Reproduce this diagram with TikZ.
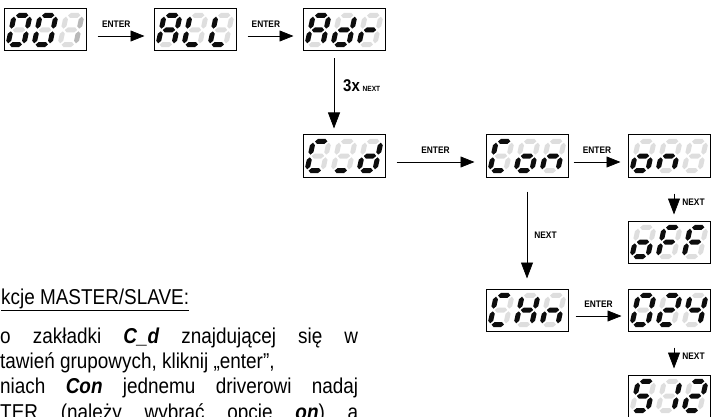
\documentclass[tikz,border=0pt]{standalone}
\usepackage{fontspec}
\setmainfont[FakeStretch=0.88]{Liberation Sans}
\usetikzlibrary{arrows.meta}
\definecolor{segoff}{rgb}{0.87,0.87,0.87}
\definecolor{segon}{rgb}{0.05,0.05,0.05}
\definecolor{segdim}{rgb}{0.72,0.72,0.72}

\tikzset{
  disp/.style={draw, line width=1pt, minimum width=82pt, minimum height=42pt, inner sep=0pt},
  arr/.style={line width=0.7pt, -{Triangle[length=14pt,width=11pt]}},
  longarr/.style={line width=0.7pt, -{Triangle[length=16pt,width=12pt]}},
  keylabel/.style={font=\fontsize{9.5}{10}\selectfont\bfseries, inner sep=0pt},
  txt/.style={font=\fontsize{21.5}{25}\selectfont, inner sep=0pt, anchor=base west},
}

% segments: horizontal and vertical hexagon at (x,y) with a colour
\newcommand{\hseg}[3]{\fill[#3] (#1-6.2,#2) -- ++(2.5,-2.5) -- ++(7.4,0) -- ++(2.5,2.5) -- ++(-2.5,2.5) -- ++(-7.4,0) -- cycle;}
\newcommand{\vseg}[3]{\fill[#3] (#1,#2-6) -- ++(2.5,2.5) -- ++(0,7) -- ++(-2.5,2.5) -- ++(-2.5,-2.5) -- ++(0,-7) -- cycle;}

% one seven-segment digit: [colour of lit segments]{display}{x offset}{lit segments}
\makeatletter
\newcommand{\segdigit}[4][segon]{%
  \begin{scope}[shift={(#2.center)}, shift={(#3,0)}, xslant=0.22]
    \foreach \s/\px/\py/\o in {a/0/-14.6/h, b/7.9/-7.3/v, c/7.9/7.3/v, d/0/14.6/h, e/-7.9/7.3/v, f/-7.9/-7.3/v, g/0/0/h} {
      \edef\segtest{\noexpand\in@{\s}{#4}}\segtest
      \ifin@\def\segcol{#1}\else\def\segcol{segoff}\fi
      \csname\o seg\endcsname{\px}{\py}{\segcol}
    }
  \end{scope}}
\makeatother
\newcommand{\dispdigits}[4]{\segdigit{#1}{-26}{#2}\segdigit{#1}{0}{#3}\segdigit{#1}{26}{#4}}

\begin{document}
\begin{tikzpicture}[x=1pt, y=-1pt]
    \useasboundingbox (0,0) rectangle (717,417);

    % displays
    \node[disp] (d001) at (45,30) {};
    \node[disp] (dALL) at (195,30) {};
    \node[disp] (dAdr) at (344,30) {};
    \node[disp] (dCd) at (344,156) {};
    \node[disp] (dCon) at (527,156) {};
    \node[disp] (don) at (669,156) {};
    \node[disp] (doFF) at (669,242) {};
    \node[disp] (dCHn) at (527,310) {};
    \node[disp] (d024) at (669,310) {};
    \node[disp] (d512) at (669,396) {};

    % digits in the displays
    \segdigit{d001}{-26}{abcdef}\segdigit{d001}{0}{abcdef}\segdigit[segdim]{d001}{26}{bc}
    \dispdigits{dALL}{abcefg}{def}{def}
    \dispdigits{dAdr}{abcefg}{bcdeg}{eg}
    \dispdigits{dCd}{adef}{d}{bcdeg}
    \dispdigits{dCon}{adef}{cdeg}{ceg}
    \dispdigits{don}{cdeg}{ceg}{}
    \dispdigits{doFF}{cdeg}{aefg}{aefg}
    \dispdigits{dCHn}{adef}{bcefg}{ceg}
    \dispdigits{d024}{abcdef}{abdeg}{bcfg}
    \dispdigits{d512}{acdfg}{bc}{abdeg}

    % arrows between the displays
    \draw[arr] ([shift={(11,6)}]d001.east) -- node[keylabel, above=8pt, pos=0.4] (lenter1) {ENTER} ([shift={(-9,6)}]dALL.west);
    \draw[arr] ([shift={(11,6)}]dALL.east) -- node[keylabel, above=8pt, pos=0.4] (lenter2) {ENTER} ([shift={(-9,6)}]dAdr.west);
    \draw[longarr] ([shift={(-10,7)}]dAdr.south) -- ([shift={(-10,-6)}]dCd.north);
    \node[anchor=base west, inner sep=0pt] (lnext3) at (343,92) {\fontsize{17}{17}\selectfont\bfseries 3x\,{\fontsize{7.5}{8}\selectfont NEXT}};
    \draw[arr] ([shift={(11,6)}]dCd.east) -- node[keylabel, above=8pt] (lenter3) {ENTER} ([shift={(-11,6)}]dCon.west);
    \draw[arr] ([shift={(5,6)}]dCon.east) -- node[keylabel, above=8pt] (lenter4) {ENTER} ([shift={(-7,6)}]don.west);
    \draw[longarr] ([shift={(5,16)}]don.south) -- node[keylabel, right=8pt, pos=0.4] (lnext1) {NEXT} ([shift={(5,-6)}]doFF.north);
    \draw[longarr] ([shift={(0,14)}]dCon.south) -- node[keylabel, right=7pt] (lnext2) {NEXT} ([shift={(0,-10)}]dCHn.north);
    \draw[arr] ([shift={(7,6)}]dCHn.east) -- node[keylabel, above=8pt] (lenter5) {ENTER} ([shift={(-6,6)}]d024.west);
    \draw[longarr] ([shift={(5,16)}]d024.south) -- node[keylabel, right=8pt, pos=0.4] (lnext4) {NEXT} ([shift={(5,-6)}]d512.north);

    % text beside the diagram
    \node[txt] (t1) at (1,304) {\underline{kcje MASTER/SLAVE:}};
    \node[txt] (t2) at (0,343) {\makebox[358pt][s]{o zakładki {\bfseries\itshape C\_d} znajdującej się w}};
    \node[txt] (t3) at (0,368) {tawień grupowych, kliknij „enter”,};
    \node[txt] (t4) at (0,393) {\makebox[358pt][s]{niach {\bfseries\itshape Con} jednemu driverowi nadaj}};
    \node[txt] (t5) at (0,419) {\makebox[358pt][s]{TER (należy wybrać opcję {\bfseries\itshape on}) a}};
\end{tikzpicture}
\end{document}
